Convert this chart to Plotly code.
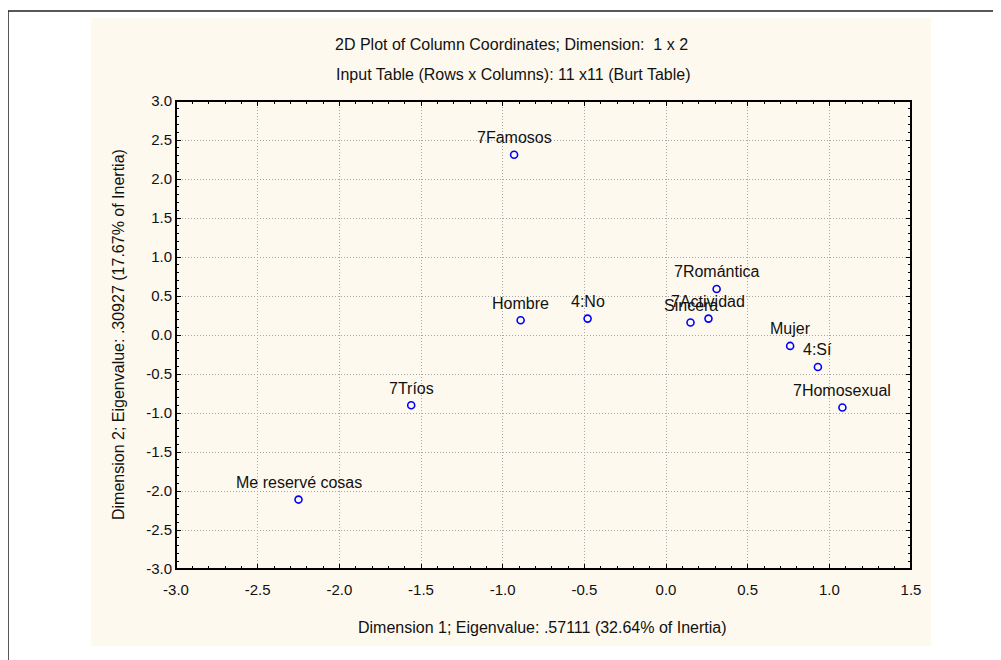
import plotly.graph_objects as go

labels = ["7Famosos", "Hombre", "4:No", "7Romántica", "Sincera", "7Actividad",
          "Mujer", "4:Sí", "7Homosexual", "7Tríos", "Me reservé cosas"]
dim1 = [-0.93, -0.89, -0.48, 0.31, 0.15, 0.26, 0.76, 0.93, 1.08, -1.56, -2.25]
dim2 = [2.31, 0.19, 0.21, 0.59, 0.16, 0.21, -0.14, -0.41, -0.93, -0.90, -2.11]

x_ticks = [-3.0, -2.5, -2.0, -1.5, -1.0, -0.5, 0.0, 0.5, 1.0, 1.5]
x_ticktext = ["-3.0", "-2.5", "-2.0", "-1.5", "-1.0", "-0.5", "0.0", "0.5", "1.0", "1.5"]
y_ticks = [-3.0, -2.5, -2.0, -1.5, -1.0, -0.5, 0.0, 0.5, 1.0, 1.5, 2.0, 2.5, 3.0]
y_ticktext = ["-3.0", "-2.5", "-2.0", "-1.5", "-1.0", "-0.5", "0.0", "0.5", "1.0",
              "1.5", "2.0", "2.5", "3.0"]

title1 = "2D Plot of Column Coordinates; Dimension:  1 x 2"
title2 = "Input Table (Rows x Columns): 11 x11 (Burt Table)"
xtitle = "Dimension 1; Eigenvalue: .57111 (32.64% of Inertia)"
ytitle = "Dimension 2; Eigenvalue: .30927 (17.67% of Inertia)"

FONT = "Liberation Sans, Arial, sans-serif"
FS = 15
FSA = 16
TXT = "#111111"
OFF = 8  # page body margin
W, H = 1001 - OFF, 660 - OFF
# plot-area edges in page pixels
L, R, T, B = 176, 911, 101, 569


def px(x):
    return (x - L) / (R - L)


def py(y):
    return (B - y) / (B - T)


fig = go.Figure()
fig.add_trace(go.Scatter(
    x=dim1, y=dim2, mode="markers",
    marker=dict(symbol="circle-open", size=7, color="#0000ff",
                line=dict(width=1.6, color="#0000ff")),
    hoverinfo="skip", showlegend=False, cliponaxis=False,
))

annotations = []
for lab, xv, yv in zip(labels, dim1, dim2):
    annotations.append(dict(x=xv, y=yv, xref="x", yref="y", text=lab, showarrow=False,
                            xanchor="center", yanchor="middle",
                            yshift=17, font=dict(family=FONT, size=FSA, color=TXT)))

common = dict(xref="paper", yref="paper", showarrow=False, xanchor="center", yanchor="middle",
              font=dict(family=FONT, size=FSA, color=TXT))
annotations += [
    dict(x=px(511), y=py(45), text=title1, **common),
    dict(x=px(513), y=py(74), text=title2, **common),
    dict(x=px(542), y=py(627), text=xtitle, **common),
    dict(x=px(118), y=py(335), text=ytitle, textangle=-90, **common),
]

shapes = [
    dict(type="rect", xref="paper", yref="paper", x0=px(8), x1=px(1010), y0=py(670), y1=py(11),
         line=dict(color="#222222", width=1.5), fillcolor="#ffffff", layer="below"),
    dict(type="rect", xref="paper", yref="paper", x0=px(91), x1=px(931), y0=py(646), y1=py(18),
         line=dict(width=0), fillcolor="#fef9ee", layer="below"),
    dict(type="rect", xref="paper", yref="paper", x0=0, x1=1, y0=0, y1=1,
         line=dict(color="#000000", width=2), fillcolor="rgba(0,0,0,0)", layer="above"),
]

axis_common = dict(
    showgrid=True, gridcolor="#a8a8a8", griddash="1px,2px", gridwidth=1,
    zeroline=False, showline=False,
    ticks="inside", ticklen=5, tickcolor="#000000", tickwidth=1,
    mirror="allticks",
    tickfont=dict(family=FONT, size=FS, color=TXT),
    minor=dict(dtick=0.1, ticks="inside", ticklen=3, tickcolor="#000000", tickwidth=1,
               showgrid=False),
)

fig.update_layout(
    width=W, height=H,
    margin=dict(l=L - OFF, r=W - (R - OFF), t=T - OFF, b=H - (B - OFF)),
    paper_bgcolor="#ffffff", plot_bgcolor="#ffffff",
    xaxis=dict(range=[-3.0, 1.5], tickvals=x_ticks, ticktext=x_ticktext,
               ticklabelstandoff=10, **axis_common),
    yaxis=dict(range=[-3.0, 3.0], tickvals=y_ticks, ticktext=y_ticktext,
               ticklabelstandoff=3, **axis_common),
    annotations=annotations, shapes=shapes,
)

fig.write_html("out.html")
